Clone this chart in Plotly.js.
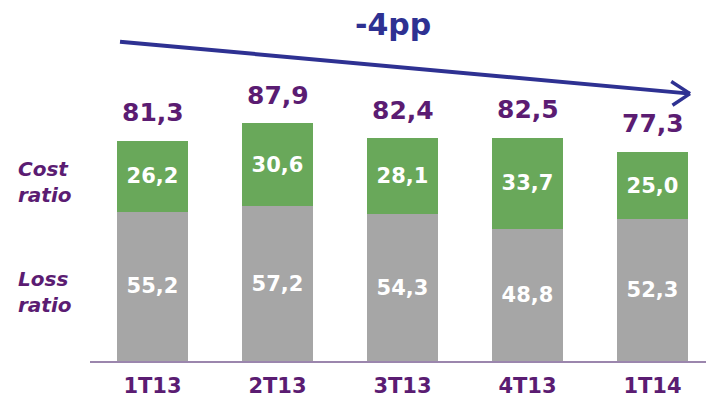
<!DOCTYPE html>
<html><head><meta charset="utf-8">
<script src="https://cdn.plot.ly/plotly-3.0.1.min.js"></script>
<style>html,body{margin:0;padding:0;background:#fff}</style>
</head><body>
<div id="chart" style="width:706px;height:403px"></div>
<script>
const categories = ["1T13","2T13","3T13","4T13","1T14"];
const lossRatio = [55.2, 57.2, 54.3, 48.8, 52.3];
const costRatio = [26.2, 30.6, 28.1, 33.7, 25.0];
const totals = [81.3, 87.9, 82.4, 82.5, 77.3];
const fmt = v => v.toFixed(1).replace('.', ',');

const purple = '#5b1c72';
const blue = '#2e3192';
const font = 'DejaVu Sans';

const traces = [
  {type:'bar', x:categories, y:lossRatio, name:'Loss ratio', marker:{color:'#a6a6a6'},
   text:lossRatio.map(fmt), textposition:'inside', insidetextanchor:'middle',
   textfont:{color:'#ffffff', size:21, family:font, weight:'bold'}, hoverinfo:'none'},
  {type:'bar', x:categories, y:costRatio, name:'Cost ratio', marker:{color:'#69a85a'},
   text:costRatio.map(fmt), textposition:'inside', insidetextanchor:'middle',
   textfont:{color:'#ffffff', size:21, family:font, weight:'bold'}, hoverinfo:'none'}
];

const annotations = categories.map((c,i)=>({
  x:c, y:totals[i], xref:'x', yref:'y', text:fmt(totals[i]), showarrow:false,
  yshift:28, font:{color:purple, size:25, family:font, weight:'bold'}
}));
annotations.push(
  {xref:'paper', yref:'paper', x:-0.073, y:0.497, xanchor:'center', yanchor:'middle', showarrow:false,
   text:'<i>Cost<br>ratio</i>', font:{color:purple, size:20, family:font, weight:'bold'}, align:'left'},
  {xref:'paper', yref:'paper', x:-0.073, y:0.192, xanchor:'center', yanchor:'middle', showarrow:false,
   text:'<i>Loss<br>ratio</i>', font:{color:purple, size:20, family:font, weight:'bold'}, align:'left'},
  {xref:'x', yref:'y', x:1.924, y:124.2, showarrow:false, text:'-4pp',
   font:{color:blue, size:30, family:font, weight:'bold'}}
);

const shapes = [
  {type:'line', xref:'x', yref:'y', x0:-0.26, y0:118.0, x1:4.3, y1:98.8, line:{color:blue, width:4}},
  {type:'line', xref:'x', yref:'y', x0:4.15, y0:103.3, x1:4.3, y1:98.8, line:{color:blue, width:3.5}},
  {type:'line', xref:'x', yref:'y', x0:4.16, y0:94.5, x1:4.3, y1:98.8, line:{color:blue, width:3.5}}
];

const layout = {
  width:706, height:403,
  margin:{l:90, r:0, t:0, b:42},
  barmode:'stack', bargap:0.43,
  showlegend:false,
  paper_bgcolor:'#ffffff', plot_bgcolor:'#ffffff',
  xaxis:{type:'category', range:[-0.5, 4.428], showgrid:false, zeroline:false,
    showline:true, linecolor:'#9b86ad', linewidth:2, ticks:'',
    tickfont:{color:purple, size:21, family:font, weight:'bold'}, ticklabelstandoff:5},
  yaxis:{range:[0, 133.4], visible:false, showgrid:false, zeroline:false},
  annotations:annotations, shapes:shapes,
  font:{family:font}
};
Plotly.newPlot('chart', traces, layout, {displayModeBar:false, staticPlot:true});
</script>
</body></html>
